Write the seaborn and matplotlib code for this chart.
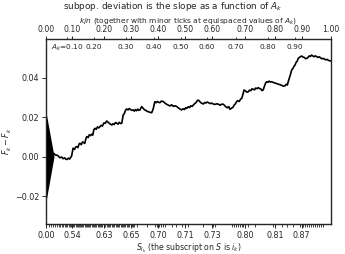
import numpy as np
import pandas as pd
import matplotlib
matplotlib.use("Agg")
import matplotlib.pyplot as plt
import seaborn as sns

sns.set_style("ticks")
plt.rcParams["font.family"] = ["DejaVu Sans"]
plt.rcParams["mathtext.fontset"] = "dejavusans"

# cumulative weight A_k (abscissa) and cumulative deviation F_k - F~_k
a_k = [0.000, 0.010, 0.018, 0.026, 0.033, 0.040, 0.045, 0.049, 0.055, 0.060,
       0.066, 0.070, 0.074, 0.079, 0.083, 0.087, 0.090, 0.095, 0.100, 0.104,
       0.108, 0.112, 0.116, 0.119, 0.124, 0.128, 0.131, 0.136, 0.140, 0.143,
       0.148, 0.152, 0.156, 0.160, 0.164, 0.168, 0.172, 0.176, 0.181, 0.185,
       0.189, 0.194, 0.198, 0.203, 0.208, 0.213, 0.218, 0.222, 0.226, 0.231,
       0.235, 0.239, 0.244, 0.248, 0.253, 0.257, 0.262, 0.266, 0.271, 0.275,
       0.279, 0.283, 0.288, 0.292, 0.297, 0.301, 0.306, 0.310, 0.314, 0.318,
       0.322, 0.326, 0.330, 0.333, 0.336, 0.341, 0.345, 0.350, 0.355, 0.359,
       0.365, 0.371, 0.376, 0.382, 0.387, 0.391, 0.396, 0.400, 0.405, 0.412,
       0.418, 0.424, 0.430, 0.435, 0.441, 0.447, 0.453, 0.459, 0.465, 0.470,
       0.476, 0.481, 0.486, 0.490, 0.494, 0.499, 0.504, 0.508, 0.513, 0.517,
       0.522, 0.527, 0.530, 0.534, 0.539, 0.543, 0.548, 0.552, 0.557, 0.561,
       0.566, 0.571, 0.576, 0.581, 0.587, 0.593, 0.599, 0.605, 0.611, 0.616,
       0.622, 0.627, 0.632, 0.637, 0.641, 0.646, 0.651, 0.656, 0.660, 0.664,
       0.669, 0.673, 0.678, 0.683, 0.687, 0.691, 0.695, 0.700, 0.705, 0.710,
       0.714, 0.719, 0.723, 0.727, 0.732, 0.736, 0.741, 0.745, 0.750, 0.755,
       0.758, 0.762, 0.766, 0.770, 0.774, 0.779, 0.783, 0.788, 0.792, 0.798,
       0.804, 0.810, 0.815, 0.821, 0.827, 0.833, 0.839, 0.843, 0.847, 0.850,
       0.854, 0.858, 0.862, 0.866, 0.870, 0.874, 0.878, 0.882, 0.885, 0.889,
       0.893, 0.897, 0.902, 0.906, 0.911, 0.915, 0.920, 0.924, 0.928, 0.932,
       0.937, 0.941, 0.945, 0.950, 0.955, 0.959, 0.964, 0.968, 0.973, 0.978,
       0.982, 0.987, 0.991, 0.996, 1.000]
dev = [0.0000, 0.0012, 0.0006, 0.0019, 0.0010, 0.0008, 0.0001, -0.0004, -0.0001, -0.0009,
       -0.0005, -0.0012, -0.0013, -0.0006, -0.0011, -0.0002, 0.0005, 0.0044, 0.0038, 0.0050,
       0.0052, 0.0047, 0.0065, 0.0069, 0.0062, 0.0076, 0.0074, 0.0068, 0.0092, 0.0103,
       0.0098, 0.0112, 0.0108, 0.0115, 0.0110, 0.0138, 0.0145, 0.0140, 0.0152, 0.0147,
       0.0153, 0.0160, 0.0156, 0.0172, 0.0170, 0.0182, 0.0176, 0.0170, 0.0166, 0.0162,
       0.0168, 0.0164, 0.0174, 0.0171, 0.0166, 0.0175, 0.0169, 0.0171, 0.0213, 0.0220,
       0.0236, 0.0243, 0.0238, 0.0245, 0.0240, 0.0236, 0.0238, 0.0232, 0.0240, 0.0234,
       0.0242, 0.0236, 0.0238, 0.0248, 0.0255, 0.0246, 0.0240, 0.0236, 0.0231, 0.0229,
       0.0226, 0.0224, 0.0242, 0.0280, 0.0275, 0.0281, 0.0276, 0.0275, 0.0283, 0.0280,
       0.0272, 0.0266, 0.0262, 0.0258, 0.0264, 0.0256, 0.0259, 0.0255, 0.0248, 0.0243,
       0.0238, 0.0244, 0.0240, 0.0249, 0.0246, 0.0254, 0.0250, 0.0259, 0.0256, 0.0263,
       0.0270, 0.0276, 0.0284, 0.0288, 0.0282, 0.0275, 0.0271, 0.0268, 0.0276, 0.0273,
       0.0278, 0.0274, 0.0270, 0.0273, 0.0268, 0.0266, 0.0269, 0.0267, 0.0262, 0.0267,
       0.0267, 0.0260, 0.0253, 0.0249, 0.0255, 0.0241, 0.0247, 0.0251, 0.0262, 0.0268,
       0.0280, 0.0285, 0.0281, 0.0293, 0.0297, 0.0316, 0.0339, 0.0335, 0.0328, 0.0330,
       0.0338, 0.0336, 0.0345, 0.0343, 0.0340, 0.0349, 0.0346, 0.0351, 0.0346, 0.0343,
       0.0336, 0.0339, 0.0356, 0.0372, 0.0381, 0.0378, 0.0384, 0.0379, 0.0381, 0.0377,
       0.0374, 0.0371, 0.0369, 0.0366, 0.0363, 0.0358, 0.0361, 0.0368, 0.0364, 0.0381,
       0.0400, 0.0418, 0.0440, 0.0447, 0.0458, 0.0466, 0.0480, 0.0486, 0.0499, 0.0504,
       0.0508, 0.0511, 0.0506, 0.0504, 0.0498, 0.0499, 0.0505, 0.0512, 0.0509, 0.0516,
       0.0511, 0.0508, 0.0512, 0.0508, 0.0504, 0.0507, 0.0502, 0.0497, 0.0499, 0.0495,
       0.0492, 0.0494, 0.0489, 0.0487, 0.0486]

# major ticks (k/n = 0.0 ... 1.0) and labels
major_pos = [0.000, 0.092, 0.205, 0.300, 0.393, 0.488, 0.582, 0.700, 0.804, 0.897, 1.000]
kn_labels = ["0.00", "0.10", "0.20", "0.30", "0.40", "0.50", "0.60", "0.70", "0.80", "0.90", "1.00"]
s_labels = ["0.00", "0.54", "0.63", "0.65", "0.70", "0.71", "0.73", "0.80", "0.81", "0.87"]

# equispaced A_k values shown as minor ticks on top
ak_pos = [0.075, 0.168, 0.280, 0.379, 0.474, 0.565, 0.667, 0.779, 0.874]
ak_labels = ["$A_k$=0.10", "0.20", "0.30", "0.40", "0.50", "0.60", "0.70", "0.80", "0.90"]

# sparse minor ticks on the bottom axis (beyond the dense region)
s_minor = [0.319, 0.354, 0.382, 0.389, 0.396, 0.404, 0.411, 0.418, 0.442, 0.456,
           0.477, 0.498, 0.551, 0.586, 0.593, 0.653, 0.660, 0.667, 0.674, 0.681,
           0.688, 0.691, 0.709, 0.733, 0.796, 0.828, 0.846, 0.867, 0.891, 0.902,
           0.909, 0.916, 0.923, 0.930, 0.937, 0.944, 0.951, 0.958, 0.965, 0.972]

# triangle showing the expected scale of fluctuations
tri_x = [0.0, 0.030, 0.0]
tri_y = [0.0238, 0.0, -0.0243]

df = pd.DataFrame({"A": a_k, "dev": dev})

fig = plt.figure(figsize=(3.45, 2.54), dpi=100)
ax = fig.add_axes([0.1333, 0.1181, 0.826, 0.728])

ax.fill(tri_x, tri_y, color="k", lw=0)
sns.lineplot(data=df, x="A", y="dev", color="k", lw=1.2, ax=ax)

ax.set_xlim(0, 1)
ax.set_ylim(-0.034, 0.0597)
ax.set_yticks([-0.02, 0.0, 0.02, 0.04])
ax.set_yticklabels(["\u22120.02", "0.00", "0.02", "0.04"])
ax.set_xticks(major_pos[:-1])
ax.set_xticklabels(s_labels)
dense = [a for a in a_k if a <= 0.31]
ax.set_xticks(dense + s_minor, minor=True)
ax.tick_params(axis="both", which="major", labelsize=5.8, length=3, width=0.7, pad=2)
ax.tick_params(axis="x", which="minor", length=1.8, width=0.6)
ax.set_xlabel("$S_{i_k}$ (the subscript on $S$ is $i_k$)", fontsize=5.6, labelpad=1)
ax.set_ylabel("$F_k - \\tilde{F}_k$", fontsize=5.8)
ax.yaxis.set_label_coords(-0.112, 0.45)
for sp in ax.spines.values():
    sp.set_linewidth(0.9)
    sp.set_color("k")

ax2 = ax.twiny()
ax2.set_xlim(0, 1)
ax2.set_xticks(major_pos)
ax2.set_xticklabels(kn_labels)
ax2.set_xticks(ak_pos, minor=True)
ax2.tick_params(axis="x", which="major", labelsize=5.6, length=2.5, width=0.7, pad=1.5)
ax2.tick_params(axis="x", which="minor", length=1.8, width=0.6)
ax2.set_xlabel("$k/n$ (together with minor ticks at equispaced values of $A_k$)",
               fontsize=5.4, labelpad=1.5)
for x, lab in zip(ak_pos, ak_labels):
    ax.text(x, 0.955, lab, transform=ax.get_xaxis_transform(), ha="center", va="center",
            fontsize=5.3)

fig.text(0.5, 0.976, "subpop. deviation is the slope as a function of $A_k$",
         ha="center", va="center", fontsize=6.4)

fig.savefig("out.png", dpi=100)
